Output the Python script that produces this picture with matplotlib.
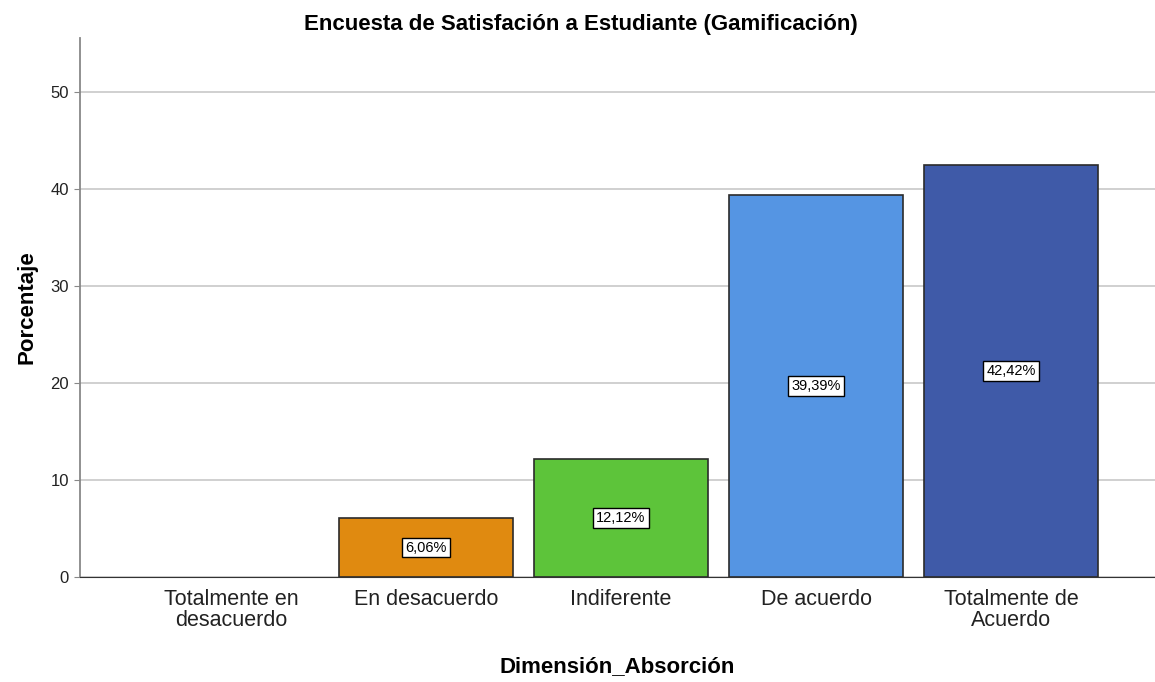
import matplotlib
matplotlib.use("Agg")
import matplotlib.pyplot as plt

plt.rcParams["font.family"] = ["Liberation Sans", "DejaVu Sans"]

# Datos
categorias = ["Totalmente en\ndesacuerdo", "En desacuerdo", "Indiferente",
              "De acuerdo", "Totalmente de\nAcuerdo"]
porcentajes = [0.0, 6.06, 12.12, 39.39, 42.42]
etiquetas = ["", "6,06%", "12,12%", "39,39%", "42,42%"]
colores = ["#cccccc", "#e08a10", "#5dc43a", "#5595e3", "#3f5aa8"]

fig = plt.figure(figsize=(11.55, 6.82), dpi=100)
ax = fig.add_axes([0.0693, 0.154, 0.9307, 0.790])

x = list(range(len(categorias)))
barras = ax.bar(x, porcentajes, width=0.89, color=colores,
                edgecolor="#2b2b2b", linewidth=1.2, zorder=3)

for b, val, txt in zip(barras, porcentajes, etiquetas):
    if val <= 0:
        b.set_visible(False)
        continue
    ax.text(b.get_x() + b.get_width() / 2, val / 2, txt,
            ha="center", va="center", fontsize=10.5, zorder=4,
            bbox=dict(boxstyle="square,pad=0.2", facecolor="white",
                      edgecolor="black", linewidth=1.0))

ax.set_xlim(-0.774, 4.738)
ax.set_ylim(0, 55.5)
ax.set_yticks([0, 10, 20, 30, 40, 50])
ax.set_xticks(x)
ax.set_xticklabels(categorias, fontsize=15.5, color="#222222", linespacing=1.0)
ax.tick_params(axis="x", length=0, pad=9)
ax.tick_params(axis="y", labelsize=12, length=4, color="#888888", pad=4,
               labelcolor="#222222")

ax.grid(axis="y", color="#c8c8c8", linewidth=1.2, zorder=0)
ax.spines["top"].set_visible(False)
ax.spines["right"].set_visible(False)
ax.spines["left"].set_color("#888888")
ax.spines["left"].set_linewidth(1.3)
ax.spines["bottom"].set_color("#333333")

ax.set_title("Encuesta de Satisfación a Estudiante (Gamificación)",
             fontsize=16, fontweight="bold", pad=6, x=0.466)
ax.set_xlabel("Dimensión_Absorción", fontsize=16, fontweight="bold", labelpad=18)
ax.set_ylabel("Porcentaje", fontsize=16, fontweight="bold", labelpad=9)

fig.savefig("out.png", dpi=100)
